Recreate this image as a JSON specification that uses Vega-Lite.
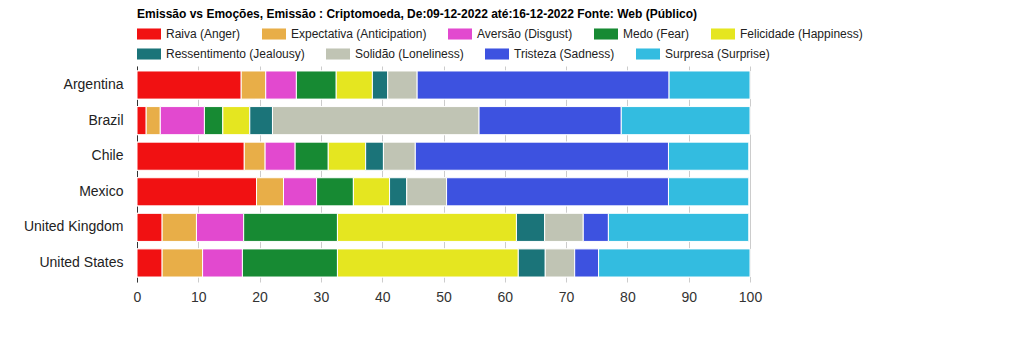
{
  "$schema": "https://vega.github.io/schema/vega-lite/v6.json",
  "width": 613,
  "height": 216,
  "padding": {"left": 23, "top": 8, "right": 5, "bottom": 5},
  "background": "white",
  "title": {
    "text": "Emissão vs Emoções, Emissão : Criptomoeda, De:09-12-2022 até:16-12-2022 Fonte: Web (Público)",
    "anchor": "start",
    "frame": "group",
    "font": "Liberation Sans",
    "fontSize": 12,
    "fontWeight": "bold",
    "color": "#000000",
    "offset": 1
  },
  "config": {
    "view": {"stroke": null},
    "font": "Liberation Sans",
    "legend": {"layout": {"top": {"direction": "vertical", "anchor": "start", "margin": 2}}}
  },
  "datasets": {
    "emotions": [
      {"emotion": "Raiva (Anger)", "rank": 1},
      {"emotion": "Expectativa (Anticipation)", "rank": 2},
      {"emotion": "Aversão (Disgust)", "rank": 3},
      {"emotion": "Medo (Fear)", "rank": 4},
      {"emotion": "Felicidade (Happiness)", "rank": 5},
      {"emotion": "Ressentimento (Jealousy)", "rank": 6},
      {"emotion": "Solidão (Loneliness)", "rank": 7},
      {"emotion": "Tristeza (Sadness)", "rank": 8},
      {"emotion": "Surpresa (Surprise)", "rank": 9}
    ]
  },
  "data": {
    "values": [
      {"country": "Argentina", "emotion": "Raiva (Anger)", "value": 17.0},
      {"country": "Argentina", "emotion": "Expectativa (Anticipation)", "value": 4.0},
      {"country": "Argentina", "emotion": "Aversão (Disgust)", "value": 5.0},
      {"country": "Argentina", "emotion": "Medo (Fear)", "value": 6.5},
      {"country": "Argentina", "emotion": "Felicidade (Happiness)", "value": 5.9},
      {"country": "Argentina", "emotion": "Ressentimento (Jealousy)", "value": 2.5},
      {"country": "Argentina", "emotion": "Solidão (Loneliness)", "value": 4.8},
      {"country": "Argentina", "emotion": "Tristeza (Sadness)", "value": 41.1},
      {"country": "Argentina", "emotion": "Surpresa (Surprise)", "value": 13.2},
      {"country": "Brazil", "emotion": "Raiva (Anger)", "value": 1.5},
      {"country": "Brazil", "emotion": "Expectativa (Anticipation)", "value": 2.3},
      {"country": "Brazil", "emotion": "Aversão (Disgust)", "value": 7.2},
      {"country": "Brazil", "emotion": "Medo (Fear)", "value": 3.0},
      {"country": "Brazil", "emotion": "Felicidade (Happiness)", "value": 4.4},
      {"country": "Brazil", "emotion": "Ressentimento (Jealousy)", "value": 3.7},
      {"country": "Brazil", "emotion": "Solidão (Loneliness)", "value": 33.7},
      {"country": "Brazil", "emotion": "Tristeza (Sadness)", "value": 23.2},
      {"country": "Brazil", "emotion": "Surpresa (Surprise)", "value": 21.0},
      {"country": "Chile", "emotion": "Raiva (Anger)", "value": 17.5},
      {"country": "Chile", "emotion": "Expectativa (Anticipation)", "value": 3.4},
      {"country": "Chile", "emotion": "Aversão (Disgust)", "value": 4.9},
      {"country": "Chile", "emotion": "Medo (Fear)", "value": 5.4},
      {"country": "Chile", "emotion": "Felicidade (Happiness)", "value": 6.1},
      {"country": "Chile", "emotion": "Ressentimento (Jealousy)", "value": 2.9},
      {"country": "Chile", "emotion": "Solidão (Loneliness)", "value": 5.2},
      {"country": "Chile", "emotion": "Tristeza (Sadness)", "value": 41.3},
      {"country": "Chile", "emotion": "Surpresa (Surprise)", "value": 13.1},
      {"country": "Mexico", "emotion": "Raiva (Anger)", "value": 19.5},
      {"country": "Mexico", "emotion": "Expectativa (Anticipation)", "value": 4.4},
      {"country": "Mexico", "emotion": "Aversão (Disgust)", "value": 5.4},
      {"country": "Mexico", "emotion": "Medo (Fear)", "value": 6.0},
      {"country": "Mexico", "emotion": "Felicidade (Happiness)", "value": 5.9},
      {"country": "Mexico", "emotion": "Ressentimento (Jealousy)", "value": 2.8},
      {"country": "Mexico", "emotion": "Solidão (Loneliness)", "value": 6.5},
      {"country": "Mexico", "emotion": "Tristeza (Sadness)", "value": 36.2},
      {"country": "Mexico", "emotion": "Surpresa (Surprise)", "value": 13.1},
      {"country": "United Kingdom", "emotion": "Raiva (Anger)", "value": 4.1},
      {"country": "United Kingdom", "emotion": "Expectativa (Anticipation)", "value": 5.6},
      {"country": "United Kingdom", "emotion": "Aversão (Disgust)", "value": 7.7},
      {"country": "United Kingdom", "emotion": "Medo (Fear)", "value": 15.3},
      {"country": "United Kingdom", "emotion": "Felicidade (Happiness)", "value": 29.2},
      {"country": "United Kingdom", "emotion": "Ressentimento (Jealousy)", "value": 4.6},
      {"country": "United Kingdom", "emotion": "Solidão (Loneliness)", "value": 6.3},
      {"country": "United Kingdom", "emotion": "Tristeza (Sadness)", "value": 4.1},
      {"country": "United Kingdom", "emotion": "Surpresa (Surprise)", "value": 22.9},
      {"country": "United States", "emotion": "Raiva (Anger)", "value": 4.1},
      {"country": "United States", "emotion": "Expectativa (Anticipation)", "value": 6.6},
      {"country": "United States", "emotion": "Aversão (Disgust)", "value": 6.5},
      {"country": "United States", "emotion": "Medo (Fear)", "value": 15.5},
      {"country": "United States", "emotion": "Felicidade (Happiness)", "value": 29.5},
      {"country": "United States", "emotion": "Ressentimento (Jealousy)", "value": 4.4},
      {"country": "United States", "emotion": "Solidão (Loneliness)", "value": 4.8},
      {"country": "United States", "emotion": "Tristeza (Sadness)", "value": 3.9},
      {"country": "United States", "emotion": "Surpresa (Surprise)", "value": 24.7}
    ]
  },
  "transform": [
    {"lookup": "emotion", "from": {"data": {"name": "emotions"}, "key": "emotion", "fields": ["rank"]}}
  ],
  "encoding": {
    "y": {
      "field": "country",
      "type": "nominal",
      "sort": "ascending",
      "scale": {"paddingInner": 0.21, "paddingOuter": 0.14},
      "axis": {
        "title": null,
        "ticks": false,
        "labelPadding": 14,
        "labelFontSize": 14,
        "labelColor": "#222222",
        "domainColor": "#333333",
        "labelFont": "Liberation Sans"
      }
    },
    "x": {
      "field": "value",
      "type": "quantitative",
      "stack": "zero",
      "scale": {"domain": [0, 100], "nice": false},
      "axis": {
        "title": null,
        "values": [0, 10, 20, 30, 40, 50, 60, 70, 80, 90, 100],
        "ticks": false,
        "domain": false,
        "labelFlush": false,
        "labelPadding": 8,
        "labelFontSize": 14,
        "labelColor": "#333333",
        "gridColor": "#cccccc",
        "labelFont": "Liberation Sans"
      }
    },
    "order": {"field": "rank", "type": "quantitative", "sort": "ascending"}
  },
  "layer": [
    {
      "mark": {"type": "bar", "stroke": "white", "strokeWidth": 1},
      "encoding": {
        "color": {
          "field": "emotion",
          "type": "nominal",
          "scale": {
            "domain": ["Raiva (Anger)", "Expectativa (Anticipation)", "Aversão (Disgust)", "Medo (Fear)", "Felicidade (Happiness)", "Ressentimento (Jealousy)", "Solidão (Loneliness)", "Tristeza (Sadness)", "Surpresa (Surprise)"],
            "range": ["#f11112", "#e8ae48", "#e249cf", "#178a33", "#e5e620", "#1b7479", "#c0c4b4", "#3d52e0", "#33bce0"]
          },
          "legend": {
            "title": null,
            "orient": "top",
            "direction": "horizontal",
            "values": ["Raiva (Anger)", "Expectativa (Anticipation)", "Aversão (Disgust)", "Medo (Fear)", "Felicidade (Happiness)"],
            "symbolType": "M-1,-0.46H1V0.46H-1Z",
            "symbolSize": 576,
            "symbolStrokeWidth": 0,
            "symbolOpacity": 1,
            "labelFontSize": 12,
            "labelFont": "Liberation Sans",
            "labelColor": "#222222",
            "labelOffset": 5,
            "labelLimit": 300,
            "columnPadding": 21,
            "padding": 0,
            "offset": 6
          }
        }
      }
    },
    {
      "mark": {"type": "bar", "stroke": "white", "strokeWidth": 1},
      "encoding": {
        "color": {
          "field": "emotion",
          "type": "nominal",
          "scale": {
            "domain": ["Raiva (Anger)", "Expectativa (Anticipation)", "Aversão (Disgust)", "Medo (Fear)", "Felicidade (Happiness)", "Ressentimento (Jealousy)", "Solidão (Loneliness)", "Tristeza (Sadness)", "Surpresa (Surprise)"],
            "range": ["#f11112", "#e8ae48", "#e249cf", "#178a33", "#e5e620", "#1b7479", "#c0c4b4", "#3d52e0", "#33bce0"]
          },
          "legend": {
            "title": null,
            "orient": "top",
            "direction": "horizontal",
            "values": ["Ressentimento (Jealousy)", "Solidão (Loneliness)", "Tristeza (Sadness)", "Surpresa (Surprise)"],
            "symbolType": "M-1,-0.46H1V0.46H-1Z",
            "symbolSize": 576,
            "symbolStrokeWidth": 0,
            "symbolOpacity": 1,
            "labelFontSize": 12,
            "labelFont": "Liberation Sans",
            "labelColor": "#222222",
            "labelOffset": 5,
            "labelLimit": 300,
            "columnPadding": 21,
            "padding": 0,
            "offset": 6
          }
        }
      }
    }
  ],
  "resolve": {"scale": {"color": "independent"}, "legend": {"color": "independent"}}
}
